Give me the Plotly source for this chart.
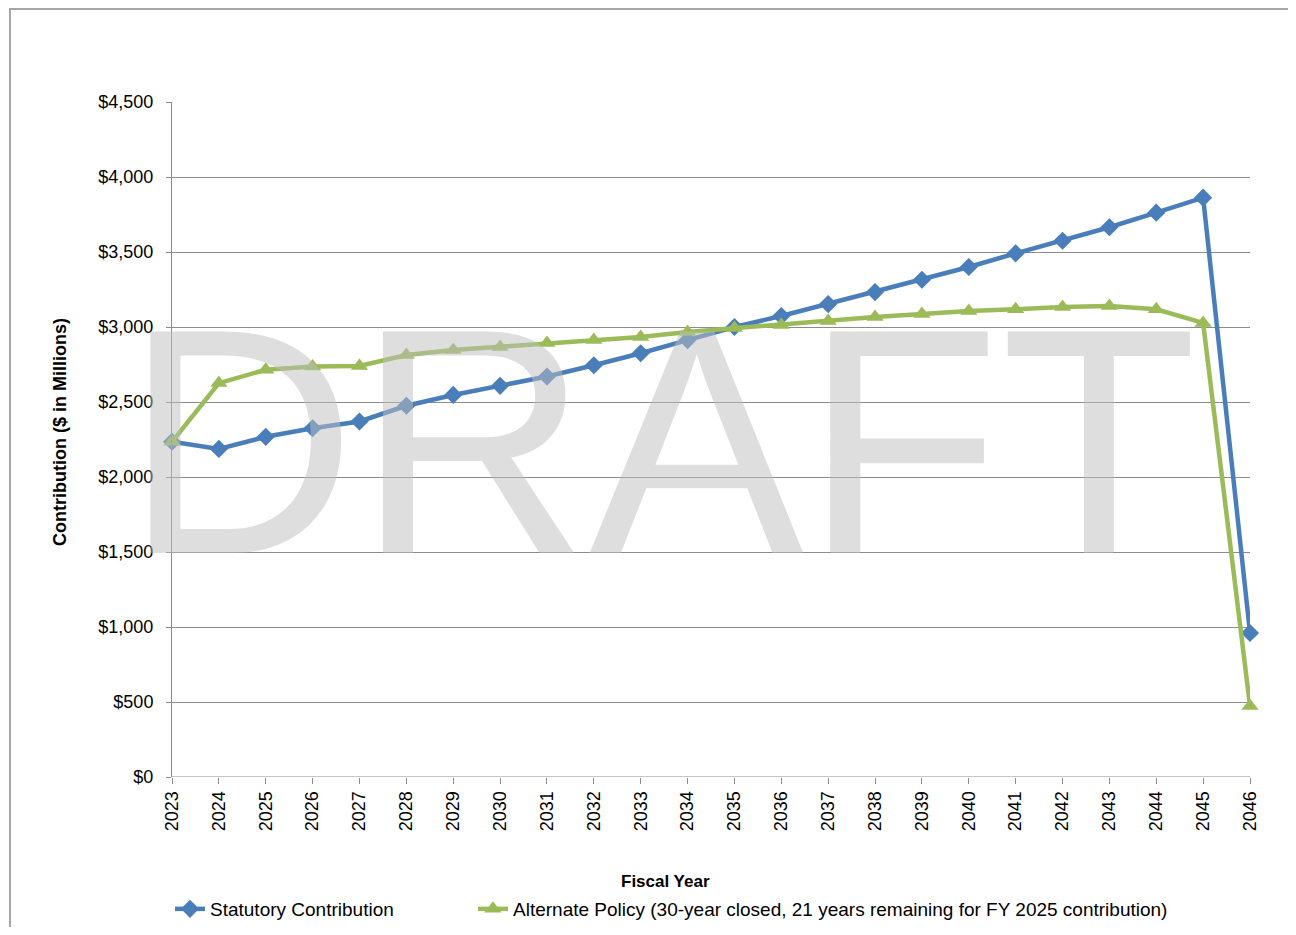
import plotly.graph_objects as go

years = list(range(2023, 2047))
statutory = [2235, 2187, 2268, 2325, 2370, 2475, 2547, 2608, 2670, 2745, 2825,
             2913, 3000, 3073, 3153, 3233, 3315, 3400, 3491, 3575, 3665, 3762,
             3862, 960]
alternate = [2235, 2626, 2715, 2737, 2740, 2813, 2847, 2867, 2893, 2913, 2933,
             2967, 2993, 3013, 3040, 3067, 3087, 3107, 3118, 3133, 3140, 3118,
             3027, 473]
y_ticks = [0, 500, 1000, 1500, 2000, 2500, 3000, 3500, 4000, 4500]
y_tick_labels = ["$0", "$500", "$1,000", "$1,500", "$2,000", "$2,500",
                 "$3,000", "$3,500", "$4,000", "$4,500"]
names = ["Statutory Contribution",
         "Alternate Policy (30-year closed, 21 years remaining for FY 2025 contribution)"]

BLUE = "#4A7EBB"
GREEN = "#9BBB59"
GRID = "#8C8C8C"
FONT = "Liberation Sans"

# figure sized so that page (with 8px body margin) is 1296x935
W, H = 1280, 919
L, T = 164, 94
pw, ph = 1078, 675
R, B = W - L - pw, H - T - ph


def px_x(p):
    return (p - L) / pw


def px_y(p):
    return (T + ph - p) / ph


def cx(p):
    return p / W


def cy(p):
    return 1 - p / H


fig = go.Figure()
fig.add_trace(go.Scatter(
    x=years, y=statutory, name=names[0], mode="lines+markers",
    line=dict(color=BLUE, width=4.5),
    marker=dict(symbol="diamond", size=14, color=BLUE),
    cliponaxis=False, legend="legend"))
fig.add_trace(go.Scatter(
    x=years, y=alternate, name=names[1], mode="lines+markers",
    line=dict(color=GREEN, width=4.5),
    marker=dict(symbol="triangle-up", size=15, color=GREEN),
    cliponaxis=False, legend="legend2"))

# outer chart border
fig.add_shape(type="rect", xref="paper", yref="paper",
              x0=px_x(2), x1=px_x(1290), y0=px_y(935), y1=px_y(1),
              line=dict(color="#A6A6A6", width=2), layer="below")

# x baseline
fig.add_shape(type="line", xref="paper", yref="y", x0=0, x1=1, y0=0, y1=0,
              line=dict(color=GRID, width=1), layer="below")

# DRAFT watermark (over the data, semi-transparent)
fig.add_annotation(text="DRAFT", xref="paper", yref="paper",
                   x=px_x(652.5), y=px_y(433.5), xanchor="center", yanchor="middle",
                   showarrow=False,
                   font=dict(family=FONT, size=322, color="rgba(190,190,190,0.5)"))

# axis titles
fig.add_annotation(text="<b>Fiscal Year</b>", xref="paper", yref="paper",
                   x=px_x(657), y=px_y(874), xanchor="center", yanchor="middle",
                   showarrow=False, font=dict(family=FONT, size=17, color="black"))
fig.add_annotation(text="<b>Contribution ($ in Millions)</b>", xref="paper", yref="paper",
                   x=px_x(52), y=px_y(424), xanchor="center", yanchor="middle",
                   textangle=-90, showarrow=False,
                   font=dict(family=FONT, size=18, color="black"))

leg_common = dict(orientation="h", xanchor="left", yanchor="middle",
                  xref="container", yref="container",
                  font=dict(size=19, family=FONT, color="black"),
                  bgcolor="rgba(0,0,0,0)")

fig.update_layout(
    width=W, height=H,
    margin=dict(l=L, r=R, t=T, b=B, autoexpand=False),
    paper_bgcolor="white", plot_bgcolor="white",
    font=dict(family=FONT, color="black"),
    showlegend=True,
    legend=dict(x=cx(162), y=cy(901), **leg_common),
    legend2=dict(x=cx(465), y=cy(901), **leg_common),
    xaxis=dict(
        range=[2023, 2046], tickmode="array", tickvals=years,
        ticktext=[str(y) for y in years], tickangle=-90,
        tickfont=dict(size=18, family=FONT, color="black"),
        showgrid=False, zeroline=False, showline=False,
        ticks="outside", ticklen=6, tickcolor=GRID),
    yaxis=dict(
        range=[0, 4500], tickmode="array", tickvals=y_ticks,
        ticktext=y_tick_labels, tickfont=dict(size=18, family=FONT, color="black"),
        showgrid=True, gridcolor=GRID, gridwidth=1,
        zeroline=False, showline=True, linecolor=GRID, linewidth=1,
        ticks="outside", ticklen=5, tickcolor=GRID, ticklabelstandoff=9),
)

fig.write_html("out.html")
